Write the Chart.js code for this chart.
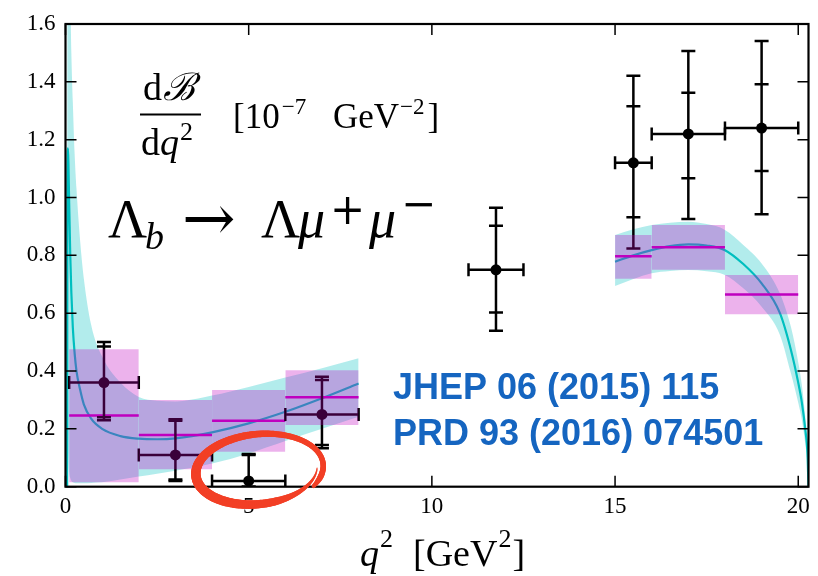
<!DOCTYPE html>
<html><head><meta charset="utf-8">
<script src="https://cdn.jsdelivr.net/npm/chart.js@4/dist/chart.umd.min.js"></script>
<style>html,body{margin:0;padding:0;background:#fff;}#wrap{width:818px;height:576px;}</style>
</head><body><div id="wrap"><canvas id="c" width="818" height="576"></canvas></div>
<script>
// ---------- tick labels ----------
const xTickValues = [0, 5, 10, 15, 20];
const xTickLabels = ['0', '5', '10', '15', '20'];
const yTickValues = [0, 0.2, 0.4, 0.6, 0.8, 1.0, 1.2, 1.4, 1.6];
const yTickLabels = ['0.0', '0.2', '0.4', '0.6', '0.8', '1.0', '1.2', '1.4', '1.6'];

// ---------- LHCb measurement (black points) ----------
const lhcbBinLo   = [0.1, 2, 4, 6, 11, 15, 16, 18];
const lhcbBinHi   = [2, 4, 6, 8, 12.5, 16, 18, 20];
const lhcbValue   = [0.36, 0.11, 0.02, 0.25, 0.75, 1.12, 1.22, 1.24];
const lhcbInnerHi = [0.485, 0.228, 0.11, 0.369, 0.902, 1.316, 1.362, 1.392];
const lhcbInnerLo = [0.24, 0.025, 0.0, 0.144, 0.602, 0.932, 1.067, 1.092];
const lhcbOuterHi = [0.50, 0.233, 0.113, 0.38, 0.965, 1.421, 1.507, 1.541];
const lhcbOuterLo = [0.23, 0.02, 0.0, 0.133, 0.539, 0.824, 0.926, 0.942];

// ---------- lattice binned prediction (magenta) ----------
const latBinLo = [0.1, 2, 4, 6, 15, 16, 18];
const latBinHi = [2, 4, 6, 8, 16, 18, 20];
const latValue = [0.246, 0.179, 0.228, 0.309, 0.797, 0.828, 0.665];
const latHi    = [0.475, 0.30, 0.334, 0.403, 0.870, 0.905, 0.732];
const latLo    = [0.015, 0.06, 0.121, 0.213, 0.719, 0.75, 0.596];

// ---------- SM curve with band (cyan) ----------
const smLowQ2      = [0.0447, 0.05, 0.055, 0.067, 0.08, 0.1, 0.13, 0.16, 0.2, 0.25, 0.3, 0.4, 0.5, 0.7, 1.0, 1.5, 2, 2.5, 3, 4, 5, 6, 7, 8];
const smLowCentral = [0, 0.9, 1.08, 1.17, 1.12, 0.98, 0.8, 0.67, 0.55, 0.46, 0.4, 0.335, 0.285, 0.235, 0.2, 0.175, 0.166, 0.164, 0.167, 0.188, 0.219, 0.259, 0.306, 0.357];
const smLowUpper   = [0, 1.9, 2.0, 2.1, 2.05, 1.85, 1.7, 1.5, 1.33, 1.15, 1.03, 0.85, 0.72, 0.56, 0.45, 0.36, 0.31, 0.297, 0.295, 0.315, 0.345, 0.378, 0.41, 0.444];
const smLowLower   = [0, 0.4, 0.3, 0.2, 0.1, 0.05, 0.03, 0.02, 0.015, 0.013, 0.012, 0.012, 0.012, 0.013, 0.015, 0.025, 0.035, 0.045, 0.055, 0.08, 0.115, 0.158, 0.2, 0.242];
const smHighQ2      = [15, 15.5, 16, 16.5, 17, 17.5, 18, 18.5, 19, 19.5, 19.8, 20.0, 20.1, 20.2, 20.25, 20.28];
const smHighCentral = [0.778, 0.80, 0.818, 0.832, 0.838, 0.834, 0.818, 0.77, 0.703, 0.6, 0.473, 0.36, 0.29, 0.19, 0.12, 0];
const smHighUpper   = [0.870, 0.89, 0.905, 0.913, 0.916, 0.908, 0.888, 0.836, 0.772, 0.668, 0.553, 0.43, 0.35, 0.23, 0.145, 0];
const smHighLower   = [0.694, 0.718, 0.738, 0.746, 0.749, 0.745, 0.732, 0.686, 0.622, 0.525, 0.392, 0.29, 0.23, 0.14, 0.08, 0];

// ---------- build datasets ----------
const pts = (xs, ys) => xs.map((x, i) => ({x, y: ys[i]}));
const segs = list => { const out = []; list.forEach(s => { out.push({x: s[0], y: s[1]}, {x: s[2], y: s[3]}, {x: s[2], y: null}); }); return out; };
const CLEAR = 'rgba(0,0,0,0)';
const BAND = 'rgba(0,191,191,0.3)';
const BOX = 'rgba(191,0,191,0.3)';
const TEAL = 'rgb(0,191,191)';
const MAG = 'rgb(191,0,191)';
const lhcbX = lhcbBinLo.map((lo, i) => (lo + lhcbBinHi[i]) / 2);

const datasets = [];
latBinLo.forEach((lo, i) => {
  datasets.push({type: 'line', data: [{x: lo, y: latHi[i]}, {x: latBinHi[i], y: latHi[i]}], fill: '+1', backgroundColor: BOX, borderColor: CLEAR, borderWidth: 0, pointRadius: 0, order: 1});
  datasets.push({type: 'line', data: [{x: lo, y: latLo[i]}, {x: latBinHi[i], y: latLo[i]}], fill: false, borderColor: CLEAR, borderWidth: 0, pointRadius: 0, order: 1});
});
datasets.push({type: 'scatter', data: pts(lhcbX, lhcbValue), pointStyle: 'circle', pointRadius: 5.5, pointBackgroundColor: '#000', pointBorderWidth: 0, order: 2});
const vCaps = [];
lhcbX.forEach((x, i) => { vCaps.push({x, y: lhcbOuterHi[i]}, {x, y: lhcbOuterLo[i]}, {x, y: lhcbInnerHi[i]}, {x, y: lhcbInnerLo[i]}); });
datasets.push({type: 'scatter', data: vCaps, pointStyle: 'line', pointRadius: 7, pointRotation: 0, pointBorderColor: '#000', pointBorderWidth: 2.5, order: 3});
const hCaps = [];
lhcbBinLo.forEach((lo, i) => { hCaps.push({x: lo, y: lhcbValue[i]}, {x: lhcbBinHi[i], y: lhcbValue[i]}); });
datasets.push({type: 'scatter', data: hCaps, pointStyle: 'line', pointRadius: 6.5, pointRotation: 90, pointBorderColor: '#000', pointBorderWidth: 2.5, order: 3});
datasets.push({type: 'line', data: segs(lhcbX.map((x, i) => [x, lhcbOuterLo[i], x, lhcbOuterHi[i]])), borderColor: '#000', borderWidth: 2.5, pointRadius: 0, fill: false, spanGaps: false, order: 4});
datasets.push({type: 'line', data: segs(lhcbBinLo.map((lo, i) => [lo, lhcbValue[i], lhcbBinHi[i], lhcbValue[i]])), borderColor: '#000', borderWidth: 2.5, pointRadius: 0, fill: false, spanGaps: false, order: 4});
datasets.push({type: 'line', data: segs(latBinLo.map((lo, i) => [lo, latValue[i], latBinHi[i], latValue[i]])), borderColor: MAG, borderWidth: 2.5, pointRadius: 0, fill: false, spanGaps: false, order: 5});
datasets.push({type: 'line', data: pts(smLowQ2, smLowCentral), borderColor: TEAL, borderWidth: 2.2, pointRadius: 0, fill: false, cubicInterpolationMode: 'monotone', order: 6});
datasets.push({type: 'line', data: pts(smHighQ2, smHighCentral), borderColor: TEAL, borderWidth: 2.2, pointRadius: 0, fill: false, cubicInterpolationMode: 'monotone', order: 6});
datasets.push({type: 'line', data: pts(smLowQ2, smLowUpper), fill: '+1', backgroundColor: BAND, borderColor: CLEAR, borderWidth: 0, pointRadius: 0, cubicInterpolationMode: 'monotone', order: 7});
datasets.push({type: 'line', data: pts(smLowQ2, smLowLower), fill: false, borderColor: CLEAR, borderWidth: 0, pointRadius: 0, cubicInterpolationMode: 'monotone', order: 7});
datasets.push({type: 'line', data: pts(smHighQ2, smHighUpper), fill: '+1', backgroundColor: BAND, borderColor: CLEAR, borderWidth: 0, pointRadius: 0, cubicInterpolationMode: 'monotone', order: 7});
datasets.push({type: 'line', data: pts(smHighQ2, smHighLower), fill: false, borderColor: CLEAR, borderWidth: 0, pointRadius: 0, cubicInterpolationMode: 'monotone', order: 7});

const SERIF = '"Liberation Serif", serif';
const DJ = '"DejaVu Serif", serif';
Chart.defaults.font.family = 'Liberation Serif';
Chart.defaults.font.size = 23;
Chart.defaults.color = '#000';

function seq(ctx, x, y, parts) {
  parts.forEach(p => {
    ctx.font = p[1];
    ctx.fillText(p[0], x, y + (p[2] || 0));
    x += ctx.measureText(p[0]).width + (p[3] || 0);
  });
  return x;
}

const framePlugin = {
  id: 'frame',
  afterDatasetsDraw(chart) {
    const {ctx, chartArea: a, scales} = chart;
    ctx.save();
    ctx.strokeStyle = '#000';
    ctx.lineWidth = 1.5;
    const L = 11;
    ctx.beginPath();
    xTickValues.forEach(v => {
      const px = scales.x.getPixelForValue(v);
      ctx.moveTo(px, a.bottom); ctx.lineTo(px, a.bottom - L);
      ctx.moveTo(px, a.top); ctx.lineTo(px, a.top + L);
    });
    yTickValues.forEach(v => {
      const py = scales.y.getPixelForValue(v);
      ctx.moveTo(a.left, py); ctx.lineTo(a.left + L, py);
      ctx.moveTo(a.right, py); ctx.lineTo(a.right - L, py);
    });
    ctx.stroke();
    ctx.lineWidth = 2.2;
    ctx.strokeRect(a.left, a.top, a.right - a.left, a.bottom - a.top);
    ctx.restore();
  },
  afterDraw(chart) {
    const ctx = chart.ctx;
    ctx.save();
    // red hand-drawn ellipse annotation
    const cx = 258, cy = 470, rx = 66, ry = 37, rot = -0.1;
    const t0 = 0.62, t1 = 0.62 - 2 * Math.PI - 0.5;
    const N = 200;
    ctx.strokeStyle = 'rgba(242,64,38,0.93)';
    ctx.lineCap = 'round';
    let prev = null;
    for (let k = 0; k <= N; k++) {
      const f = k / N;
      const t = t0 + (t1 - t0) * f;
      const shrink = 1 - 0.1 * f;
      const ex = rx * shrink * Math.cos(t), ey = ry * shrink * Math.sin(t);
      const p = {x: cx + ex * Math.cos(rot) - ey * Math.sin(rot), y: cy + ex * Math.sin(rot) + ey * Math.cos(rot)};
      if (prev) {
        let w = 7.5 + 2 * Math.cos(t - Math.PI) + 0.8 * Math.sin(t);
        if (f < 0.04) w *= 0.6 + 10 * f;
        if (f > 0.82) w *= Math.max(0.2, 1 - (f - 0.82) * 4.5);
        ctx.lineWidth = w;
        ctx.beginPath(); ctx.moveTo(prev.x, prev.y); ctx.lineTo(p.x, p.y); ctx.stroke();
      }
      prev = p;
    }
    ctx.fillStyle = '#000';
    ctx.textAlign = 'left';
    ctx.textBaseline = 'alphabetic';
    // fraction dB/dq^2
    ctx.font = '38px ' + SERIF;
    ctx.fillText('d', 143, 100);
    ctx.font = 'italic 38px ' + SERIF;
    ctx.fillText('ℬ', 163, 100);
    ctx.fillRect(140, 113.5, 61, 2);
    seq(ctx, 141, 155, [['d', '38px ' + SERIF], ['q', 'italic 38px ' + SERIF, 0, 1], ['2', '26px ' + SERIF, -15]]);
    // units [10^-7 GeV^-2]
    seq(ctx, 233, 128, [['[10', '35px ' + SERIF, 0, 2], ['\u22127', '23px ' + SERIF, -14]]);
    const ux = seq(ctx, 333, 128, [['GeV', '35px ' + SERIF, 0, 1], ['\u22122', '23px ' + SERIF, -14, 3]]);
    ctx.font = '35px ' + SERIF;
    ctx.fillText(']', ux, 128);
    // decay
    ctx.font = '54px ' + SERIF;
    ctx.fillText('\u039B', 108, 237);
    ctx.font = 'italic 38px ' + SERIF;
    ctx.fillText('b', 145, 249);
    ctx.font = '64px ' + DJ;
    ctx.fillText('\u2192', 182, 240);
    ctx.font = '54px ' + SERIF;
    ctx.fillText('\u039B', 261, 237);
    ctx.font = 'italic 54px ' + SERIF;
    ctx.fillText('\u03BC', 298, 237);
    ctx.font = '42px ' + DJ;
    ctx.fillText('+', 330, 224);
    ctx.font = 'italic 54px ' + SERIF;
    ctx.fillText('\u03BC', 369, 237);
    ctx.font = '42px ' + DJ;
    ctx.fillText('\u2212', 401, 218);
    // references
    ctx.fillStyle = '#1565C0';
    ctx.font = 'bold 36px "Liberation Sans", Arial, sans-serif';
    ctx.fillText('JHEP 06 (2015) 115', 393, 399);
    ctx.fillText('PRD 93 (2016) 074501', 393, 445);
    // x axis title
    ctx.fillStyle = '#000';
    seq(ctx, 360, 566, [['q', 'italic 38px ' + SERIF, 0, 1], ['2', '26px ' + SERIF, -19]]);
    seq(ctx, 413, 566, [['[GeV', '38px ' + SERIF, 0, 1], ['2', '26px ' + SERIF, -19, 1], [']', '38px ' + SERIF]]);
    ctx.restore();
  }
};

new Chart(document.getElementById('c'), {
  type: 'line',
  data: {datasets},
  options: {
    animation: false,
    responsive: false,
    maintainAspectRatio: false,
    layout: {padding: {top: 24, right: 4, left: 0, bottom: 0}},
    plugins: {legend: {display: false}, tooltip: {enabled: false}},
    elements: {line: {tension: 0}},
    scales: {
      x: {
        type: 'linear', min: 0, max: 20.28,
        afterBuildTicks: s => { s.ticks = xTickValues.map(v => ({value: v})); },
        afterFit: s => { s.height = 89.3; },
        ticks: {callback: (v, i) => xTickLabels[i], font: {family: 'Liberation Serif', size: 23}, color: '#000', padding: 6, maxRotation: 0, autoSkip: false},
        grid: {display: false, drawTicks: false},
        border: {display: false}
      },
      y: {
        type: 'linear', min: 0, max: 1.6,
        afterBuildTicks: s => { s.ticks = yTickValues.map(v => ({value: v})); },
        afterFit: s => { s.width = 65.5; },
        ticks: {callback: (v, i) => yTickLabels[i], font: {family: 'Liberation Serif', size: 23}, color: '#000', padding: 10, autoSkip: false},
        grid: {display: false, drawTicks: false},
        border: {display: false}
      }
    }
  },
  plugins: [framePlugin]
});
</script>
</body></html>
